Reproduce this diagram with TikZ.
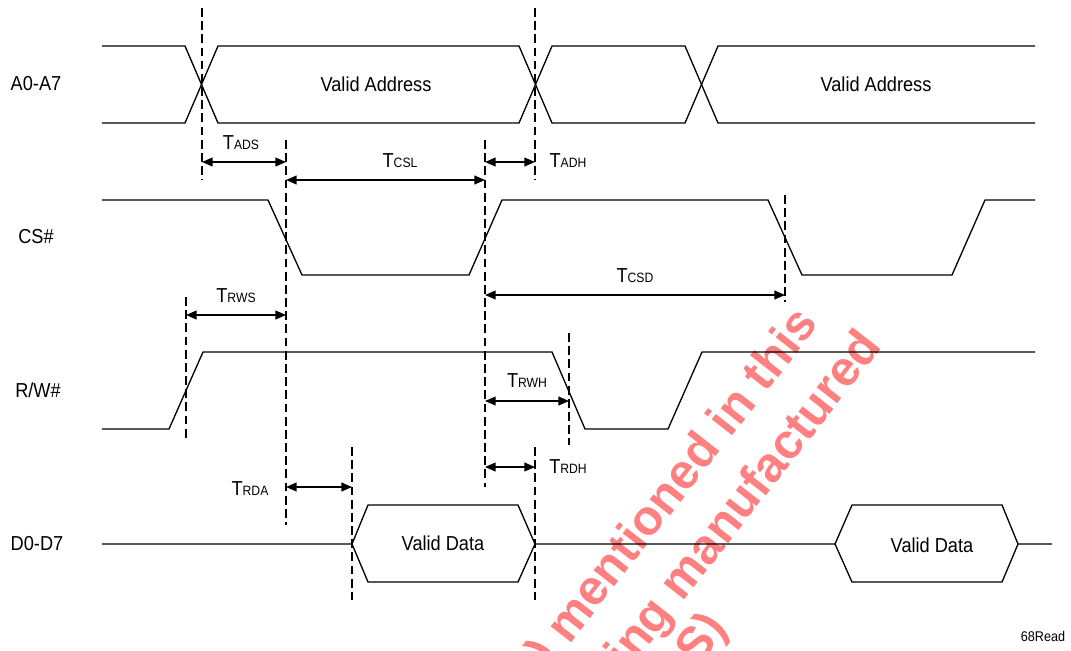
\documentclass[tikz,border=0pt]{standalone}
\usepackage{fontspec}
\setmainfont{Liberation Sans}[FakeStretch=0.9]
\newfontfamily\wmfont{Liberation Sans}
\usetikzlibrary{arrows.meta}

\definecolor{wmred}{HTML}{FF8080}
\newcommand{\tsub}[1]{T{\fontsize{7.7}{9}\selectfont #1}}

\begin{document}
\begin{tikzpicture}[x=0.02cm, y=-0.02cm, every node/.append style={font=\fontsize{11.5}{13}\selectfont, inner sep=1pt}]
    \useasboundingbox (0,0) rectangle (1071,650);

    % watermark
    \begin{scope}
        \clip (0,0) rectangle (1071,650);
        \begin{scope}[wmtext/.style={text=wmred, rotate=52, anchor=base east, inner sep=0pt,
            font=\wmfont\bfseries\fontsize{28}{32}\selectfont}]
            \node[wmtext] (wm1) at (820, 324) {) mentioned in this};
            \node[wmtext] (wm2) at (883, 346) {being manufactured};
            \node[wmtext] (wm3) at (729, 628) {S)};
        \end{scope}
    \end{scope}

    \begin{scope}[sig/.style={line width=0.75pt}, guide/.style={line width=0.6pt, dash pattern=on 5pt off 2.5pt},
        dim/.style={line width=0.75pt, {Triangle[length=6pt,width=5pt]}-{Triangle[length=6pt,width=5pt]}}]

        \node (nA) at (36, 84) {A0-A7};
        \node (nCS) at (36, 237) {CS\#};
        \node (nRW) at (38, 390) {R/W\#};
        \node (nD) at (37, 544) {D0-D7};

        % address bus
        \draw[sig] (102,46) -- (185,46) -- (218,123) -- (519,123) -- (552,46) -- (685,46) -- (718,123) -- (1035,123);
        \draw[sig] (102,123) -- (185,123) -- (218,46) -- (519,46) -- (552,123) -- (685,123) -- (718,46) -- (1035,46);
        \node (va1) at (376, 84) {Valid Address};
        \node (va2) at (876, 84) {Valid Address};

        % chip select
        \draw[sig] (102,200) -- (268,200) -- (302,275) -- (469,275) -- (502,200) -- (768,200) -- (802,275) -- (952,275) -- (985,200) -- (1035,200);

        % read/write
        \draw[sig] (102,429) -- (169,429) -- (203,352) -- (552,352) -- (585,429) -- (668,429) -- (702,352) -- (1035,352);

        % data bus
        \draw[sig] (102,544) -- (352,544) -- (368,505) -- (518,505) -- (535,544) -- (835,544) -- (852,505) -- (1002,505) -- (1018,544) -- (1052,544);
        \draw[sig] (352,544) -- (368,582) -- (518,582) -- (535,544);
        \draw[sig] (835,544) -- (852,582) -- (1002,582) -- (1018,544);
        \node (vd1) at (443, 543) {Valid Data};
        \node (vd2) at (932, 545) {Valid Data};

        \node[font=\fontsize{8}{9}\selectfont] (fig) at (1043, 636) {68Read};

        % guide lines
        \coordinate (g1t) at (202,8);    \coordinate (g1b) at (202,180);
        \coordinate (g2t) at (535,8);    \coordinate (g2b) at (535,180);
        \coordinate (g3t) at (286,140);  \coordinate (g3b) at (286,525);
        \coordinate (g4t) at (485,140);  \coordinate (g4b) at (485,487);
        \coordinate (g5t) at (785,195);  \coordinate (g5b) at (785,302);
        \coordinate (g6t) at (186,297);  \coordinate (g6b) at (186,440);
        \coordinate (g7t) at (569,333);  \coordinate (g7b) at (569,445);
        \coordinate (g8t) at (352,447);  \coordinate (g8b) at (352,600);
        \coordinate (g9t) at (535,447);  \coordinate (g9b) at (535,600);
        \foreach \g in {1,...,9} {
            \draw[guide] (g\g t) -- (g\g b);
        }

        % timing arrows
        \coordinate (ads1) at (202,162); \coordinate (ads2) at (286,162);
        \coordinate (csl1) at (286,180); \coordinate (csl2) at (485,180);
        \coordinate (adh1) at (485,162); \coordinate (adh2) at (535,162);
        \coordinate (csd1) at (485,295); \coordinate (csd2) at (785,295);
        \coordinate (rws1) at (186,315); \coordinate (rws2) at (286,315);
        \coordinate (rwh1) at (485,401); \coordinate (rwh2) at (569,401);
        \coordinate (rdh1) at (485,467); \coordinate (rdh2) at (535,467);
        \coordinate (rda1) at (286,487); \coordinate (rda2) at (352,487);
        \draw[dim] (ads1) -- (ads2);
        \draw[dim] (csl1) -- (csl2);
        \draw[dim] (adh1) -- (adh2);
        \draw[dim] (csd1) -- (csd2);
        \draw[dim] (rws1) -- (rws2);
        \draw[dim] (rwh1) -- (rwh2);
        \draw[dim] (rdh1) -- (rdh2);
        \draw[dim] (rda1) -- (rda2);

        \node (tads) at (241, 143) {\tsub{ADS}};
        \node (tcsl) at (400, 161) {\tsub{CSL}};
        \node (tadh) at (568, 161) {\tsub{ADH}};
        \node (tcsd) at (635, 276) {\tsub{CSD}};
        \node (trws) at (236, 296) {\tsub{RWS}};
        \node (trwh) at (527, 381) {\tsub{RWH}};
        \node (trdh) at (568, 467) {\tsub{RDH}};
        \node (trda) at (250, 489) {\tsub{RDA}};
    \end{scope}
\end{tikzpicture}
\end{document}
